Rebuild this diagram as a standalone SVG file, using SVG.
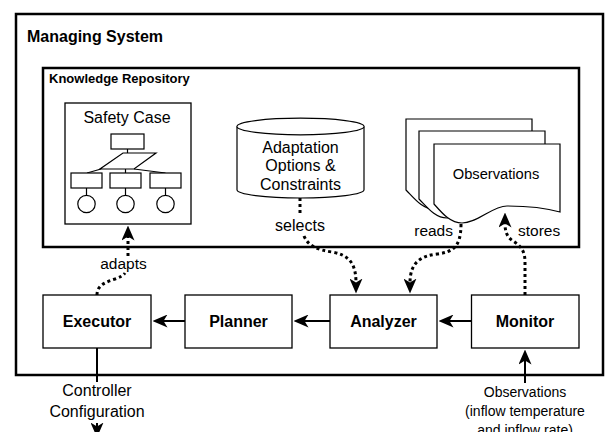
<svg xmlns="http://www.w3.org/2000/svg" width="606" height="432" viewBox="0 0 606 432">
<style>
text{font-family:"Liberation Sans",Arial,Helvetica,sans-serif;fill:#000}
.b{font-weight:bold}
.c{text-anchor:middle}
.box{fill:#fff;stroke:#000;stroke-width:1.3}
.frame{fill:#fff;stroke:#000;stroke-width:2.5}
.thin{fill:#fff;stroke:#000;stroke-width:1.2}
.flow{fill:none;stroke:#000;stroke-width:2}
.dot{fill:none;stroke:#000;stroke-width:3;stroke-dasharray:3 3}
</style>
<defs>
<marker id="arrow" viewBox="0 0 15 13" refX="4.5" refY="6.5" markerWidth="15" markerHeight="13" markerUnits="userSpaceOnUse" orient="auto">
<path d="M0,0 L15,6.5 L0,13 L4,6.5 Z" fill="#000"/>
</marker>
</defs>
<rect x="0" y="0" width="606" height="432" fill="#fff"/>

<g id="managing-system">
<rect class="frame" x="16" y="14" width="587" height="361"/>
<text class="b" x="27" y="42" font-size="16">Managing System</text>
</g>

<g id="knowledge-repository">
<rect class="frame" x="43" y="68" width="536" height="179"/>
<text class="b" x="49" y="82.5" font-size="13">Knowledge Repository</text>
</g>

<g id="safety-case">
<rect class="box" x="65" y="103" width="126" height="121"/>
<text class="c" x="127" y="123" font-size="16">Safety Case</text>
<rect class="thin" x="111" y="134" width="33" height="15"/>
<path class="thin" d="M127.5,149 V153"/>
<path class="thin" d="M123,153 H156 L134,169 H100 Z"/>
<path class="thin" d="M101,169 L87,173 M125.5,169 V173 M134,169 L165.5,173"/>
<rect class="thin" x="71" y="173" width="31" height="15"/>
<rect class="thin" x="110" y="173" width="31" height="15"/>
<rect class="thin" x="150" y="173" width="31" height="15"/>
<path class="thin" d="M86.5,188 V195.5 M125.5,188 V195.5 M165.5,188 V195.5"/>
<circle class="thin" cx="86.5" cy="204" r="8.7"/>
<circle class="thin" cx="125.5" cy="204" r="8.7"/>
<circle class="thin" cx="165.5" cy="204" r="8.7"/>
</g>

<g id="adaptation-options">
<path class="thin" d="M237,126.5 A63.5,8.3 0 0 1 364,126.5 V189.7 A63.5,8.3 0 0 1 237,189.7 Z"/>
<path class="thin" fill="none" d="M237,126.5 A63.5,8.3 0 0 0 364,126.5"/>
<text class="c" x="300.5" y="152.5" font-size="16">Adaptation</text>
<text class="c" x="300.5" y="171" font-size="16">Options &amp;</text>
<text class="c" x="300.5" y="189.5" font-size="16">Constraints</text>
</g>

<g id="observations-store">
<path class="thin" d="M406,119 H532 V198 C518,194 496,192 479,192 C464,192 450,209 434,209 C422,209 414,198 406,190 Z"/>
<path class="thin" d="M419,131 H545 V207 C531,203 509,201 492,201 C477,201 463,218 447,218 C435,218 427,207 419,199 Z"/>
<path class="thin" d="M434,144 H560 V212 C546,208 524,206 507,206 C492,206 478,223 462,223 C450,223 442,213 434,204 Z"/>
<text class="c" x="496" y="179" font-size="14.7">Observations</text>
</g>

<g id="executor">
<rect class="box" x="43" y="295" width="108" height="53"/>
<text class="b c" x="97" y="327" font-size="16">Executor</text>
</g>
<g id="planner">
<rect class="box" x="185" y="295" width="107" height="53"/>
<text class="b c" x="238.5" y="327" font-size="16">Planner</text>
</g>
<g id="analyzer">
<rect class="box" x="330" y="295" width="107" height="53"/>
<text class="b c" x="383.5" y="327" font-size="16">Analyzer</text>
</g>
<g id="monitor">
<rect class="box" x="471.5" y="295" width="107.5" height="53"/>
<text class="b c" x="525" y="327" font-size="16">Monitor</text>
</g>

<g id="connectors">
<path class="flow" d="M471,321 H449" marker-end="url(#arrow)"/>
<path class="flow" d="M330,321 H304" marker-end="url(#arrow)"/>
<path class="flow" d="M185,321 H163" marker-end="url(#arrow)"/>
<path class="flow" d="M97,348 V382 M97,423 V427" marker-end="url(#arrow)"/>
<path class="flow" d="M525,383 V360" marker-end="url(#arrow)"/>
<path class="dot" d="M300,198 V215 M304,236 C308,246 318,250 332,252 C348,255 356,262 356,283" marker-end="url(#arrow)"/>
<path class="dot" d="M461,224 C461,248 452,252 437,254 C420,256 410,263 410,283" marker-end="url(#arrow)"/>
<path class="dot" d="M525,295 V262 C525,249 519,245 513,241 C507,237 505,232 505,223" marker-end="url(#arrow)"/>
<path class="dot" d="M97,295 C97,285 106,282 115,279 C120,277 123,276 125,273 M128,256 V236" marker-end="url(#arrow)"/>
<text class="c" x="300" y="230.5" font-size="16">selects</text>
<text x="453" y="235.5" font-size="15.5" text-anchor="end">reads</text>
<text x="518" y="235.5" font-size="15.5">stores</text>
<text class="c" x="123.5" y="269" font-size="15.5">adapts</text>
<text class="c" x="97" y="396" font-size="16">Controller</text>
<text class="c" x="97" y="417" font-size="16">Configuration</text>
<text class="c" x="525" y="397" font-size="14">Observations</text>
<text class="c" x="525" y="415.5" font-size="14">(inflow temperature</text>
<text class="c" x="525" y="434.5" font-size="14">and inflow rate)</text>
</g>
</svg>
